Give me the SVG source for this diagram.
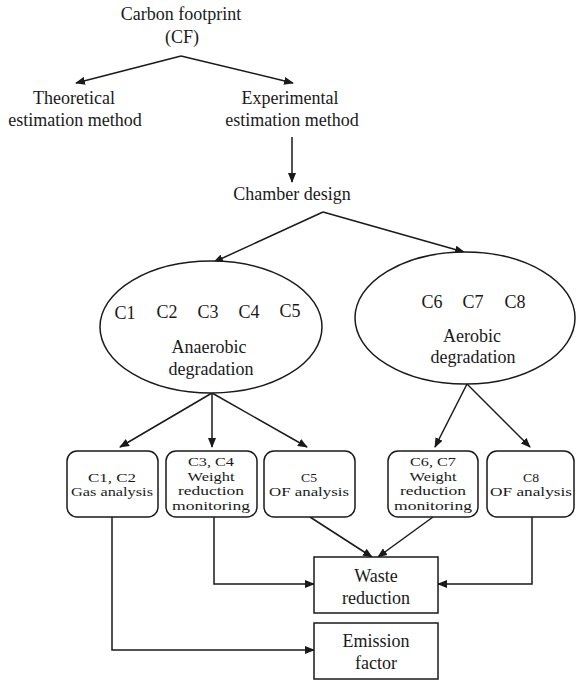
<svg xmlns="http://www.w3.org/2000/svg" width="576" height="680" viewBox="0 0 576 680">
<style>
text{font-family:"Liberation Serif","Times New Roman",serif;fill:#1a1a1a;text-anchor:middle}
.t18{font-size:18px}
.t16{font-size:12.5px}
.shape{fill:#fff;stroke:#1a1a1a;stroke-width:1.5}
.con{fill:none;stroke:#1a1a1a;stroke-width:1.5;marker-end:url(#ah)}
</style>
<defs>
<marker id="ah" markerUnits="userSpaceOnUse" markerWidth="10" markerHeight="8" refX="9" refY="4" orient="auto">
<path d="M0,0 L10,4 L0,8 Z" fill="#1a1a1a"/>
</marker>
</defs>
<rect width="576" height="680" fill="#fff"/>
<g id="connectors">
<path class="con" d="M181,56 L76,83"/>
<path class="con" d="M181,56 L293,83"/>
<path class="con" d="M292,137 L292,182"/>
<path class="con" d="M323,212 L214,262"/>
<path class="con" d="M323,212 L464,252"/>
<path class="con" d="M212,393 L120,447"/>
<path class="con" d="M212,393 L212,447"/>
<path class="con" d="M212,393 L307,447"/>
<path class="con" d="M467,384 L435,447"/>
<path class="con" d="M467,384 L530,447"/>
<path class="con" d="M310,517 L372,557"/>
<path class="con" d="M433,517 L378,557"/>
<path class="con" d="M214,517 L214,584 L314,584"/>
<path class="con" d="M532,517 L532,584 L438,584"/>
<path class="con" d="M112,517 L112,650 L314,650"/>
</g>
<g id="cf">
<text class="t18" x="181" y="20">Carbon footprint</text>
<text class="t18" x="182" y="43">(CF)</text>
</g>
<g id="theoretical">
<text class="t18" x="74" y="104">Theoretical</text>
<text class="t18" x="75" y="126">estimation method</text>
</g>
<g id="experimental">
<text class="t18" x="290" y="104">Experimental</text>
<text class="t18" x="292" y="126">estimation method</text>
</g>
<g id="chamber">
<text class="t18" x="292" y="200">Chamber design</text>
</g>
<g id="anaerobic">
<ellipse class="shape" cx="211" cy="327" rx="111" ry="66"/>
<text class="t18" x="125" y="319">C1</text>
<text class="t18" x="167" y="318">C2</text>
<text class="t18" x="208" y="318">C3</text>
<text class="t18" x="249" y="318">C4</text>
<text class="t18" x="290" y="317">C5</text>
<text class="t18" x="209" y="353">Anaerobic</text>
<text class="t18" x="211" y="375">degradation</text>
</g>
<g id="aerobic">
<ellipse class="shape" cx="465" cy="318" rx="110" ry="66"/>
<text class="t18" x="432" y="308">C6</text>
<text class="t18" x="473" y="308">C7</text>
<text class="t18" x="515" y="308">C8</text>
<text class="t18" x="472" y="342">Aerobic</text>
<text class="t18" x="473" y="363">degradation</text>
</g>
<g id="box-c1c2">
<rect class="shape" x="67" y="451" width="91" height="66" rx="10"/>
<text class="t16" x="112" y="481.5" textLength="48" lengthAdjust="spacingAndGlyphs">C1, C2</text>
<text class="t16" x="112" y="496" textLength="82" lengthAdjust="spacingAndGlyphs">Gas analysis</text>
</g>
<g id="box-c3c4">
<rect class="shape" x="166" y="451" width="91" height="66" rx="10"/>
<text class="t16" x="211" y="466" textLength="46" lengthAdjust="spacingAndGlyphs">C3, C4</text>
<text class="t16" x="211" y="480.5" textLength="47" lengthAdjust="spacingAndGlyphs">Weight</text>
<text class="t16" x="211" y="495" textLength="66" lengthAdjust="spacingAndGlyphs">reduction</text>
<text class="t16" x="211" y="509.5" textLength="78" lengthAdjust="spacingAndGlyphs">monitoring</text>
</g>
<g id="box-c5">
<rect class="shape" x="264" y="451" width="91" height="66" rx="10"/>
<text class="t16" x="309" y="481.5" textLength="16" lengthAdjust="spacingAndGlyphs">C5</text>
<text class="t16" x="309" y="496" textLength="80" lengthAdjust="spacingAndGlyphs">OF analysis</text>
</g>
<g id="box-c6c7">
<rect class="shape" x="388" y="451" width="90" height="66" rx="10"/>
<text class="t16" x="433" y="466" textLength="46" lengthAdjust="spacingAndGlyphs">C6, C7</text>
<text class="t16" x="433" y="480.5" textLength="47" lengthAdjust="spacingAndGlyphs">Weight</text>
<text class="t16" x="433" y="495" textLength="66" lengthAdjust="spacingAndGlyphs">reduction</text>
<text class="t16" x="433" y="509.5" textLength="78" lengthAdjust="spacingAndGlyphs">monitoring</text>
</g>
<g id="box-c8">
<rect class="shape" x="487" y="451" width="87" height="66" rx="10"/>
<text class="t16" x="531" y="481.5" textLength="16" lengthAdjust="spacingAndGlyphs">C8</text>
<text class="t16" x="531" y="496" textLength="82" lengthAdjust="spacingAndGlyphs">OF analysis</text>
</g>
<g id="waste">
<rect class="shape" x="314" y="557" width="124" height="56"/>
<text class="t18" x="376" y="582">Waste</text>
<text class="t18" x="376" y="604">reduction</text>
</g>
<g id="emission">
<rect class="shape" x="314" y="623" width="124" height="56"/>
<text class="t18" x="376" y="647">Emission</text>
<text class="t18" x="376" y="669">factor</text>
</g>
</svg>
